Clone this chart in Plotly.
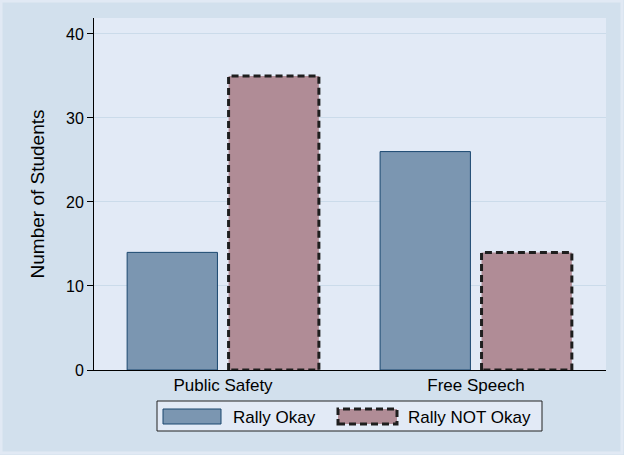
import plotly.graph_objects as go

categories = ["Public Safety", "Free Speech"]
rally_okay = [14, 26]
rally_not_okay = [35, 14]
y_ticks = [0, 10, 20, 30, 40]

FONT = "Liberation Sans, Arial, sans-serif"
OUTER_BG = "#d2e0ed"
PLOT_BG = "#e2eaf6"
OKAY_FILL = "#7b96b1"
OKAY_LINE = "#1a476f"
NOT_FILL = "#b08c96"
DASH_LINE = "#1e1e1e"

# plot area in pixels (for the hand-made legend)
L, R, T, B = 94, 606, 18, 370
W, H = 624, 455


def px_x(px):
    return (px - L) / (R - L)


def px_y(py):
    return (B - py) / (B - T)


pos = list(range(len(categories)))
bar_w = 0.357
off_okay, off_not = -0.379, 0.022

fig = go.Figure()
fig.add_trace(go.Bar(
    x=pos, y=rally_okay, name="Rally Okay", width=bar_w, offset=off_okay,
    marker=dict(color=OKAY_FILL, line=dict(color=OKAY_LINE, width=1)),
))
fig.add_trace(go.Bar(
    x=pos, y=rally_not_okay, name="Rally NOT Okay", width=bar_w, offset=off_not,
    marker=dict(color=NOT_FILL, line=dict(width=0)),
))

# dashed outline around the "NOT Okay" bars, built from the same values
ox, oy = [], []
for p, v in zip(pos, rally_not_okay):
    x0, x1 = p + off_not, p + off_not + bar_w
    ox += [x0, x0, x1, x1, x0, None]
    oy += [0, v, v, 0, 0, None]
fig.add_trace(go.Scatter(
    x=ox, y=oy, mode="lines", hoverinfo="skip",
    line=dict(color=DASH_LINE, width=3, dash="7px,4px"),
))

shapes = [
    # outer light frame
    dict(type="rect", xref="paper", yref="paper",
         x0=px_x(1), x1=px_x(622), y0=px_y(453), y1=px_y(1),
         line=dict(color="#e1e9f4", width=3), layer="below"),
    # legend box
    dict(type="rect", xref="paper", yref="paper",
         x0=px_x(157), x1=px_x(542), y0=px_y(431), y1=px_y(401),
         fillcolor=PLOT_BG, line=dict(color="#222222", width=1)),
    # legend swatches
    dict(type="rect", xref="paper", yref="paper",
         x0=px_x(163), x1=px_x(221), y0=px_y(424), y1=px_y(409),
         fillcolor=OKAY_FILL, line=dict(color=OKAY_LINE, width=1)),
    dict(type="rect", xref="paper", yref="paper",
         x0=px_x(338), x1=px_x(397), y0=px_y(424), y1=px_y(409),
         fillcolor=NOT_FILL, line=dict(color=DASH_LINE, width=3, dash="7px,4px")),
]
annotations = [
    dict(text="Rally Okay", xref="paper", yref="paper", x=px_x(231), y=px_y(417),
         xanchor="left", yanchor="middle", showarrow=False, font=dict(size=17)),
    dict(text="Rally NOT Okay", xref="paper", yref="paper", x=px_x(406), y=px_y(417),
         xanchor="left", yanchor="middle", showarrow=False, font=dict(size=17)),
]

fig.update_layout(
    width=W, height=H,
    margin=dict(l=L, r=W - R, t=T, b=H - B),
    paper_bgcolor=OUTER_BG,
    plot_bgcolor=PLOT_BG,
    font=dict(family=FONT, size=15, color="#000000"),
    showlegend=False,
    shapes=shapes,
    annotations=annotations,
    xaxis=dict(
        range=[-0.51, 1.514], tickvals=pos, ticktext=categories,
        showline=True, linecolor="#000000", linewidth=1,
        ticks="", showgrid=False, zeroline=False, tickfont=dict(size=17),
    ),
    yaxis=dict(
        range=[0, 41.9], tickvals=y_ticks, showline=True, linecolor="#000000",
        linewidth=1, ticks="outside", ticklen=6, tickcolor="#000000",
        gridcolor="#cbdbea", gridwidth=1, zeroline=False,
        title=dict(text="Number of Students", font=dict(size=19), standoff=16),
        tickfont=dict(size=16),
    ),
)

fig.write_html("out.html", config={"displayModeBar": False},
               post_script="document.body.style.margin='0px';")
